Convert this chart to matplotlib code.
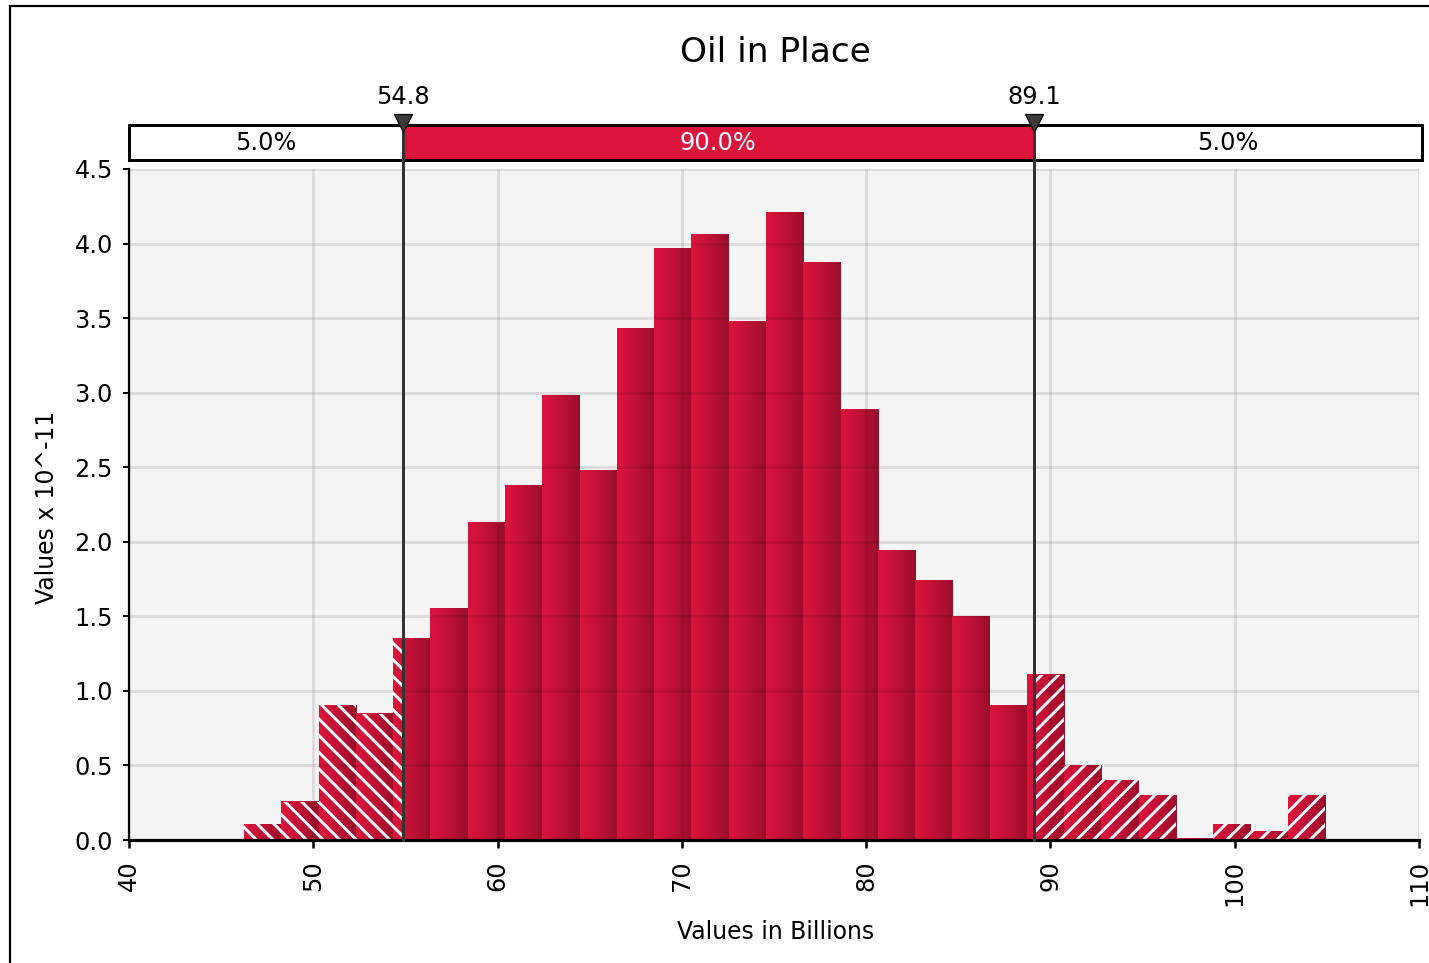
import numpy as np
import matplotlib
matplotlib.use('Agg')
import matplotlib.pyplot as plt
from matplotlib.colors import LinearSegmentedColormap
from matplotlib.patches import Rectangle
import matplotlib.transforms as mtransforms

# ---------------- data ----------------
bin_edges = [46.25, 48.27, 50.29, 52.32, 54.34, 56.36, 58.38, 60.41, 62.43, 64.45,
             66.47, 68.50, 70.52, 72.54, 74.56, 76.59, 78.61, 80.63, 82.65, 84.68,
             86.70, 88.72, 90.74, 92.77, 94.79, 96.81, 98.83, 100.86, 102.88, 104.90]
densities = [0.107, 0.255, 0.905, 0.847, 1.35, 1.55, 2.13, 2.38, 2.98, 2.48,
             3.43, 3.97, 4.06, 3.48, 4.21, 3.87, 2.89, 1.94, 1.74, 1.50,
             0.905, 1.107, 0.50, 0.40, 0.30, 0.01, 0.107, 0.06, 0.30]
cut_values = [54.85, 89.1]
cut_labels = ['54.8', '89.1']
region_pcts = ['5.0%', '90.0%', '5.0%']
x_ticks = [40, 50, 60, 70, 80, 90, 100, 110]
y_ticks = [0.0, 0.5, 1.0, 1.5, 2.0, 2.5, 3.0, 3.5, 4.0, 4.5]
title = 'Oil in Place'
xlabel = 'Values in Billions'
ylabel = 'Values x 10^-11'

# ---------------- layout helpers ----------------
DPI = 150
W, H = 1429, 963
def pt(px):
    return px * 72.0 / DPI

plt.rcParams['font.family'] = ['DejaVu Sans']
plt.rcParams['hatch.linewidth'] = 1.4

fig = plt.figure(figsize=(W / DPI, H / DPI), dpi=DPI)
fig.patch.set_facecolor('white')

# outer frame (right/bottom cut off)
fig.add_artist(Rectangle((9.5 / W, -0.1), 1.2, (1 - 5.7 / H) + 0.1,
                         transform=fig.transFigure, fill=False,
                         edgecolor='black', linewidth=pt(2.2)))

ax_l, ax_r, ax_b, ax_t = 129, 1419, 840, 169
ax = fig.add_axes([ax_l / W, 1 - ax_b / H, (ax_r - ax_l) / W, (ax_b - ax_t) / H])
ax.set_facecolor('#F4F4F4')
ax.set_xlim(x_ticks[0], x_ticks[-1])
ax.set_ylim(y_ticks[0], y_ticks[-1])

cmap = LinearSegmentedColormap.from_list('barg', ['#DC143C', '#C01136', '#990E2B'])
grad = np.linspace(0, 1, 128).reshape(1, -1)

lo, hi = cut_values
for i, h in enumerate(densities):
    l, r = bin_edges[i], bin_edges[i + 1]
    ax.imshow(grad, cmap=cmap, extent=[l, r, 0, h], aspect='auto',
              interpolation='bilinear', zorder=1.5)
    if l < lo:
        hr = min(r, lo)
        ax.add_patch(Rectangle((l, 0), hr - l, h, facecolor='none', edgecolor='white',
                               linewidth=0, hatch='\\\\\\', zorder=1.6))
    if r > hi:
        hl = max(l, hi)
        ax.add_patch(Rectangle((hl, 0), r - hl, h, facecolor='none', edgecolor='white',
                               linewidth=0, hatch='///', zorder=1.6))

ax.set_xlim(x_ticks[0], x_ticks[-1])
ax.set_ylim(y_ticks[0], y_ticks[-1])

ax.set_axisbelow(False)
ax.grid(True, color='black', alpha=0.09, linewidth=pt(3))
ax.set_xticks(x_ticks)
ax.set_xticklabels([str(t) for t in x_ticks])
ax.set_yticks(y_ticks)
ax.set_yticklabels(['%.1f' % t for t in y_ticks])
ax.tick_params(axis='x', length=pt(8), width=pt(2.5), direction='out', pad=pt(12),
               labelrotation=90, labelsize=11.5, colors='black')
ax.tick_params(axis='y', length=pt(6), width=pt(2), direction='out', pad=pt(10),
               labelsize=11.5, colors='black')
for s in ['top', 'right']:
    ax.spines[s].set_visible(False)
ax.spines['left'].set_linewidth(pt(2.2))
ax.spines['bottom'].set_linewidth(pt(3.2))
ax.spines['left'].set_color('black')
ax.spines['bottom'].set_color('black')

# ---------------- top delimiter bar ----------------
trans = mtransforms.blended_transform_factory(ax.transData, ax.transAxes)
def yfrac(py):
    return (ax_b - py) / (ax_b - ax_t)

bar_right = 110.15
y0, y1 = yfrac(160), yfrac(125)
regions = [(x_ticks[0], lo, 'white', 'black'),
           (lo, hi, '#DC143C', 'white'),
           (hi, bar_right, 'white', 'black')]
for (a, b, fc, tc), txt in zip(regions, region_pcts):
    ax.add_patch(Rectangle((a, y0), b - a, y1 - y0, transform=trans, clip_on=False,
                           facecolor=fc, edgecolor='none', zorder=5))
    ax.text((a + b) / 2, yfrac(143), txt, transform=trans, ha='center', va='center',
            fontsize=11.5, color=tc, zorder=8, clip_on=False)
ax.add_patch(Rectangle((x_ticks[0], y0), bar_right - x_ticks[0], y1 - y0, transform=trans,
                       clip_on=False, facecolor='none', edgecolor='black',
                       linewidth=pt(3), zorder=5.5))

for c, lab in zip(cut_values, cut_labels):
    ax.plot([c, c], [0, yfrac(133)], transform=trans, clip_on=False,
            color='#333333', linewidth=pt(3), zorder=6)
    ax.plot([c], [yfrac(123)], transform=trans, clip_on=False, marker='v',
            markersize=pt(18), markerfacecolor='#3C3C3C', markeredgecolor='black',
            markeredgewidth=0.6, zorder=7)
    ax.text(c, yfrac(97), lab, transform=trans, ha='center', va='center',
            fontsize=11.5, color='black', clip_on=False, zorder=8)

# ---------------- titles ----------------
fig.text(775 / W, 1 - 53 / H, title, ha='center', va='center', fontsize=16.5, color='black')
fig.text(776 / W, 1 - 932 / H, xlabel, ha='center', va='center', fontsize=11.3, color='black')
fig.text(47 / W, 1 - 507 / H, ylabel, ha='center', va='center', rotation=90,
         fontsize=11.3, color='black')

fig.savefig('out.png', dpi=DPI)
